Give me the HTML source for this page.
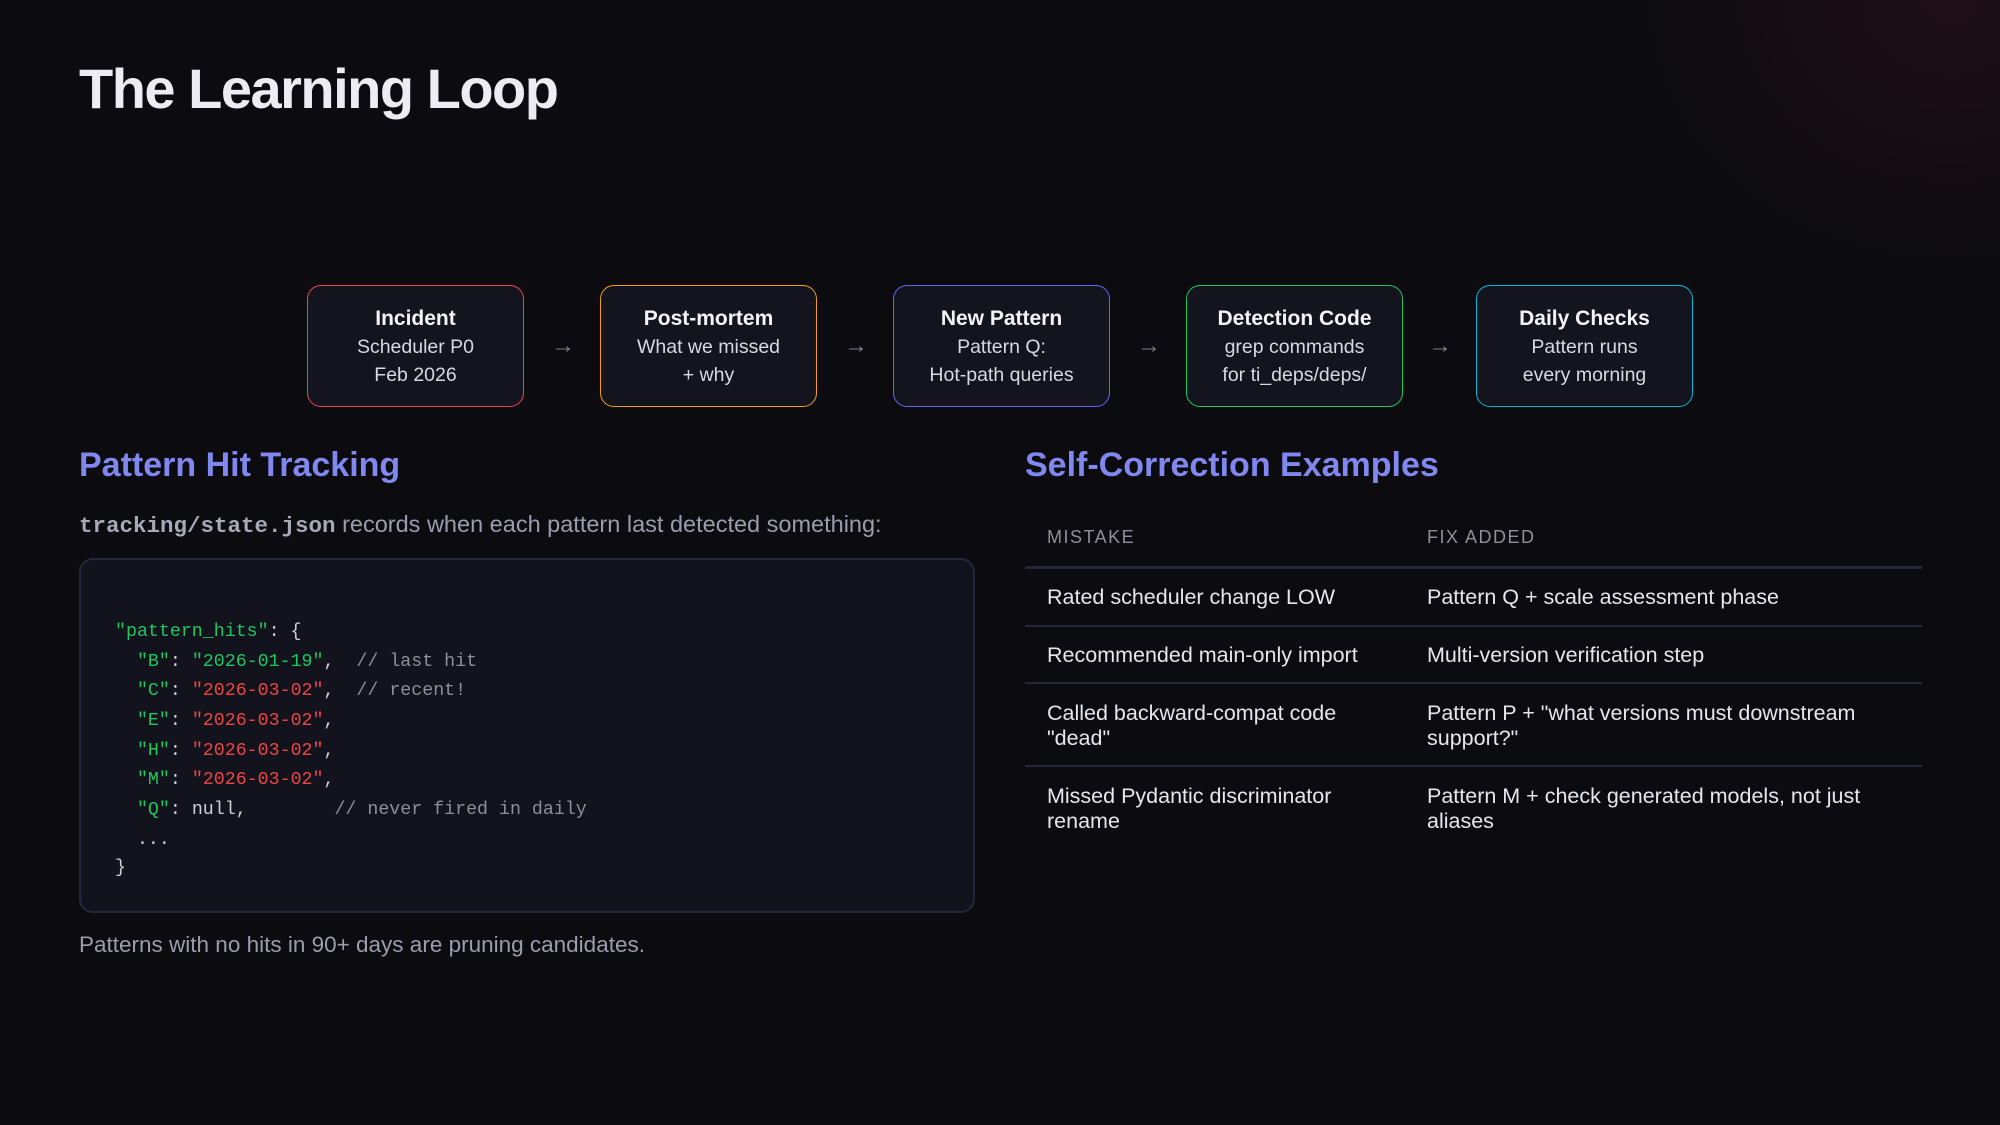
<!DOCTYPE html>
<html><head><meta charset="utf-8"><style>
*{margin:0;padding:0;box-sizing:border-box}
body{width:2000px;height:1125px;overflow:hidden;background:#0b0b10;font-family:"Liberation Sans",sans-serif;color:#ececf2;position:relative}
.glow{position:absolute;right:-300px;top:-300px;width:700px;height:600px;background:radial-gradient(ellipse at center,rgba(70,25,35,0.35),rgba(11,11,16,0) 65%)}
h1{position:absolute;left:79px;top:56px;font-size:56px;font-weight:bold;letter-spacing:-1.5px;color:#ececf2}
.box{position:absolute;top:285px;width:217px;height:122px;border:1.5px solid;border-radius:14px;background:#13141d;text-align:center;padding-top:19px}
.box b{display:block;font-size:21px;line-height:28px;color:#f3f3f7}
.box span{display:block;font-size:19.5px;line-height:28px;color:#d8d8e2}
.arr{position:absolute;top:332px;font-size:24px;color:#7e7e90}
h2{position:absolute;font-size:34px;color:#8088f0;font-weight:600}
.txt{position:absolute;font-size:23.5px;color:#9c9cae}
.code{position:absolute;left:79px;top:558px;width:896px;height:355px;border:2px solid #25263a;border-radius:14px;background:#12131c}
.cl{position:absolute;left:115px;font-family:"Liberation Mono",monospace;font-size:18.3px;color:#d0d0da;white-space:pre}
.g{color:#22c55e}.r{color:#ef4444}.c{color:#8e8e9e}
.hd{position:absolute;top:527px;font-size:18px;color:#8e8e9e;letter-spacing:1.5px}
.td{position:absolute;font-size:21.5px;line-height:25px;color:#e6e6ee}
.ln{position:absolute;left:1025px;width:897px;height:2px;background:#25263a}
</style></head><body>
<div class="glow"></div>
<h1>The Learning Loop</h1>

<div class="box" style="left:307px;border-color:#e5484d"><b>Incident</b><span>Scheduler P0</span><span>Feb 2026</span></div>
<div class="arr" style="left:551px">→</div>
<div class="box" style="left:600px;border-color:#f59e0b"><b>Post-mortem</b><span>What we missed</span><span>+ why</span></div>
<div class="arr" style="left:844px">→</div>
<div class="box" style="left:893px;border-color:#6366f1"><b>New Pattern</b><span>Pattern Q:</span><span>Hot-path queries</span></div>
<div class="arr" style="left:1137px">→</div>
<div class="box" style="left:1186px;border-color:#22c55e"><b>Detection Code</b><span>grep commands</span><span>for ti_deps/deps/</span></div>
<div class="arr" style="left:1428px">→</div>
<div class="box" style="left:1476px;border-color:#06b6d4"><b>Daily Checks</b><span>Pattern runs</span><span>every morning</span></div>

<h2 style="left:79px;top:446px">Pattern Hit Tracking</h2>
<div class="txt" style="left:79px;top:511px"><span style="font-family:'Liberation Mono',monospace;font-weight:bold;font-size:22.5px;color:#a8a8b8">tracking/state.json</span> records when each pattern last detected something:</div>
<div class="code"></div>
<div class="cl" style="top:622px"><span class="g">"pattern_hits"</span>: {</div>
<div class="cl" style="top:652px">  <span class="g">"B"</span>: <span class="g">"2026-01-19"</span>,  <span class="c">// last hit</span></div>
<div class="cl" style="top:681px">  <span class="g">"C"</span>: <span class="r">"2026-03-02"</span>,  <span class="c">// recent!</span></div>
<div class="cl" style="top:711px">  <span class="g">"E"</span>: <span class="r">"2026-03-02"</span>,</div>
<div class="cl" style="top:741px">  <span class="g">"H"</span>: <span class="r">"2026-03-02"</span>,</div>
<div class="cl" style="top:770px">  <span class="g">"M"</span>: <span class="r">"2026-03-02"</span>,</div>
<div class="cl" style="top:800px">  <span class="g">"Q"</span>: null,        <span class="c">// never fired in daily</span></div>
<div class="cl" style="top:830px">  ...</div>
<div class="cl" style="top:858px">}</div>
<div class="txt" style="left:79px;top:932px;font-size:22.5px">Patterns with no hits in 90+ days are pruning candidates.</div>

<h2 style="left:1025px;top:446px">Self-Correction Examples</h2>
<div class="hd" style="left:1047px">MISTAKE</div>
<div class="hd" style="left:1427px">FIX ADDED</div>
<div class="ln" style="top:566px;height:3px"></div>
<div class="td" style="left:1047px;top:585px">Rated scheduler change LOW</div>
<div class="td" style="left:1427px;top:585px">Pattern Q + scale assessment phase</div>
<div class="ln" style="top:625px"></div>
<div class="td" style="left:1047px;top:643px">Recommended main-only import</div>
<div class="td" style="left:1427px;top:643px">Multi-version verification step</div>
<div class="ln" style="top:682px"></div>
<div class="td" style="left:1047px;top:701px">Called backward-compat code<br>"dead"</div>
<div class="td" style="left:1427px;top:701px">Pattern P + "what versions must downstream<br>support?"</div>
<div class="ln" style="top:765px"></div>
<div class="td" style="left:1047px;top:784px">Missed Pydantic discriminator<br>rename</div>
<div class="td" style="left:1427px;top:784px">Pattern M + check generated models, not just<br>aliases</div>
</body></html>
